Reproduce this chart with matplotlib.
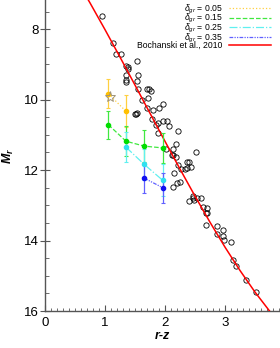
import numpy as np
import matplotlib
matplotlib.use("Agg")
import matplotlib.pyplot as plt
from matplotlib.ticker import MultipleLocator

plt.rcParams['font.family'] = ['Liberation Sans', 'DejaVu Sans']
plt.rcParams['mathtext.fontset'] = 'custom'
plt.rcParams['mathtext.rm'] = 'Liberation Sans'
plt.rcParams['mathtext.it'] = 'Liberation Sans:italic'
plt.rcParams['mathtext.bf'] = 'Liberation Sans:bold:italic'

# field stars (open circles)
star_rz = [0.945, 1.128, 1.183, 1.267, 1.345, 1.378, 1.388, 1.528, 1.35, 1.545,
           1.35, 1.35, 1.528, 1.555, 1.695, 1.738, 1.762, 1.622, 1.722, 1.695,
           1.805, 1.905, 1.962, 1.517, 1.533, 1.508, 1.778, 1.878, 1.845, 1.972,
           2.028, 2.067, 1.888, 2.212, 2.183, 2.138, 2.017, 2.112, 2.128, 2.517,
           2.183, 2.362, 2.405, 2.212, 2.372, 2.433, 2.262, 2.333, 2.155, 2.25,
           2.205, 2.128, 2.472, 2.528, 2.462, 2.60, 2.405, 2.488, 2.638, 2.708,
           2.678, 2.695, 2.683, 2.872, 2.962, 2.872, 2.972, 2.988, 3.10, 3.138,
           3.183, 3.35, 3.517]
star_Mr = [7.62, 8.38, 8.71, 8.71, 9.04, 9.06, 9.13, 8.89, 9.29, 9.31,
           9.43, 9.51, 9.48, 9.69, 9.69, 9.69, 9.75, 10.02, 9.95, 10.23,
           10.28, 10.23, 10.11, 10.40, 10.37, 10.41, 10.55, 10.66, 10.73, 10.61,
           10.61, 10.76, 10.94, 10.90, 11.25, 11.39, 11.39, 11.56, 11.58, 11.48,
           11.62, 11.77, 11.77, 11.86, 11.93, 11.92, 11.98, 11.98, 12.09, 12.34,
           12.36, 12.48, 12.74, 12.80, 12.80, 12.80, 12.87, 12.86, 13.04, 13.09,
           13.21, 13.23, 13.56, 13.58, 13.70, 13.80, 13.87, 13.98, 14.05, 14.55,
           14.72, 15.12, 15.47]

# Bochanski et al. 2010 relation
boch_rz = [0.25, 0.5, 0.75, 1.0, 1.25, 1.5, 1.75, 2.0, 2.25, 2.5, 2.75, 3.0, 3.25, 3.5, 3.75, 4.0]
boch_Mr = [5.834, 6.525, 7.253, 8.012, 8.792, 9.586, 10.386, 11.183, 11.970, 12.738,
           13.480, 14.187, 14.850, 15.463, 16.017, 16.504]

# delta_gr tracks
d005_rz = [1.055, 1.35]
d005_Mr = [9.83, 10.33]
d005_err = [0.41, 0.45]
d015_rz = [1.055, 1.35, 1.655, 1.962]
d015_Mr = [10.71, 11.18, 11.32, 11.37]
d015_err = [0.40, 0.42, 0.45, 0.43]
d025_rz = [1.35, 1.655, 1.962]
d025_Mr = [11.35, 11.84, 12.29]
d025_err = [0.43, 0.45, 0.45]
d035_rz = [1.655, 1.962]
d035_Mr = [12.23, 12.50]
d035_err = [0.41, 0.42]

target_rz = [1.083]
target_Mr = [9.93]

fig = plt.figure(figsize=(2.8, 3.48), dpi=100)
ax = fig.add_axes([45 / 280, 37 / 348, 235 / 280, 311 / 348])

ax.plot(star_rz, star_Mr, 'o', mfc='none', mec='black', ms=3.8, mew=0.6, zorder=3)
boch, = ax.plot(boch_rz, boch_Mr, '-', color='#ff0000', lw=1.1, zorder=4,
                label='Bochanski et al., 2010')

tracks = [
    (d005_rz, d005_Mr, d005_err, '#ffc000', '#ffd040', ':', r'$\delta_{gr}$ = 0.05'),
    (d015_rz, d015_Mr, d015_err, '#00dd00', '#40e840', '--', r'$\delta_{gr}$ = 0.15'),
    (d025_rz, d025_Mr, d025_err, '#30e0f0', '#60f0f0', '-.', r'$\delta_{gr}$ = 0.25'),
    (d035_rz, d035_Mr, d035_err, '#1010f0', '#6060ff', (0, (3, 1, 1, 1, 1, 1)), r'$\delta_{gr}$ = 0.35'),
]
handles = []
for rz, mr, err, mc, lc, ls, lab in tracks:
    ax.errorbar(rz, mr, yerr=err, fmt='none', ecolor=lc, elinewidth=0.9,
                capsize=1.5, capthick=0.8, zorder=5)
    ax.plot(rz, mr, linestyle=ls, color=lc, lw=0.9, zorder=5)
    ax.plot(rz, mr, 'o', color=mc, ms=3, zorder=6)
    h, = ax.plot([], [], linestyle=ls, color=lc, lw=0.9, label=lab)
    handles.append(h)

ax.plot(target_rz, target_Mr, '*', mfc='none', mec='#a09478', ms=8, mew=0.7, zorder=7)

handles.append(boch)
leg = ax.legend(handles=handles, loc='upper right', bbox_to_anchor=(274 / 280, 1.0),
                bbox_transform=fig.transFigure, frameon=False, fontsize=6.2,
                markerfirst=False, handlelength=4.9, handletextpad=0.8,
                labelspacing=-0.4, borderpad=0.3, borderaxespad=0)

ax.set_xlim(0, 235 / 60)
ax.set_ylim(16, 8 - 29.3 / 35.35)
ax.xaxis.set_major_locator(MultipleLocator(1))
ax.xaxis.set_minor_locator(MultipleLocator(0.1))
ax.yaxis.set_major_locator(MultipleLocator(2))
ax.yaxis.set_minor_locator(MultipleLocator(0.5))
ax.tick_params(axis='x', which='major', direction='in', length=4, width=0.8,
               color='#555555', labelsize=9.5, pad=4)
ax.tick_params(axis='x', which='minor', direction='in', length=2.2, width=0.6, color='#555555')
ax.tick_params(axis='y', which='major', direction='inout', length=7, width=0.8,
               color='#555555', labelsize=9.5, pad=1)
ax.tick_params(axis='y', which='minor', direction='in', length=3, width=0.6, color='#555555')
for s in ['top', 'right']:
    ax.spines[s].set_visible(False)
for s in ['left', 'bottom']:
    ax.spines[s].set_color('#555555')
    ax.spines[s].set_linewidth(1.0)

ax.set_xlabel('r-z', fontsize=9, fontweight='bold', style='italic', labelpad=1)
ax.set_ylabel(r'$\mathbf{M_r}$', fontsize=9, labelpad=6)

fig.savefig('out.png', dpi=100)
